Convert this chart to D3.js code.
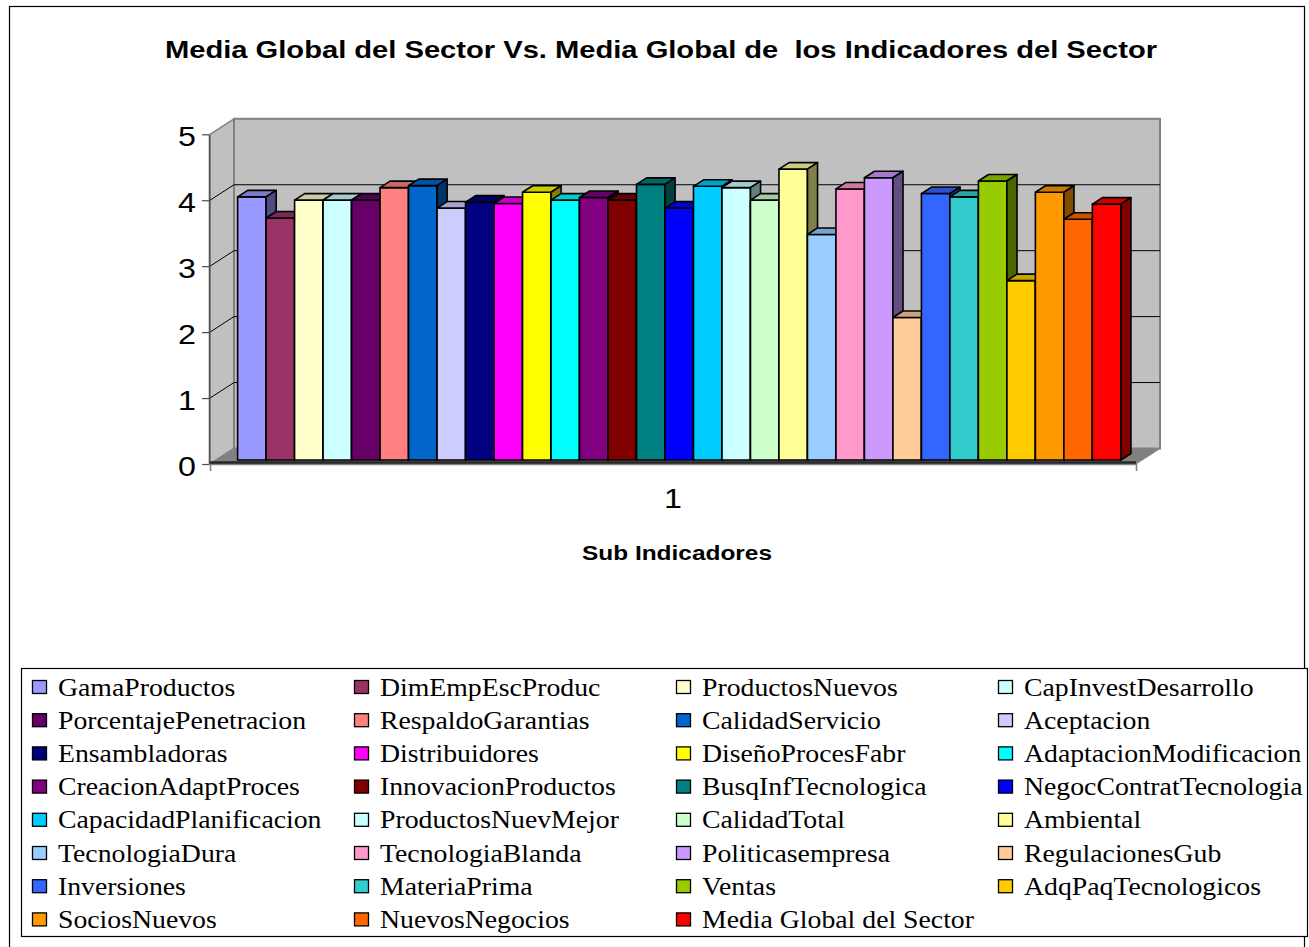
<!DOCTYPE html>
<html>
<head>
<meta charset="utf-8">
<script src="https://cdn.jsdelivr.net/npm/d3@7"></script>
<style>
  html, body { margin: 0; padding: 0; background: #fff; }
  svg { display: block; }
</style>
</head>
<body>
<script>
// ---- Data -------------------------------------------------------------
const categories = ["1"];

const seriesNames = [
  "GamaProductos", "DimEmpEscProduc", "ProductosNuevos", "CapInvestDesarrollo",
  "PorcentajePenetracion", "RespaldoGarantias", "CalidadServicio", "Aceptacion",
  "Ensambladoras", "Distribuidores", "DiseñoProcesFabr", "AdaptacionModificacion",
  "CreacionAdaptProces", "InnovacionProductos", "BusqInfTecnologica", "NegocContratTecnologia",
  "CapacidadPlanificacion", "ProductosNuevMejor", "CalidadTotal", "Ambiental",
  "TecnologiaDura", "TecnologiaBlanda", "Politicasempresa", "RegulacionesGub",
  "Inversiones", "MateriaPrima", "Ventas", "AdqPaqTecnologicos",
  "SociosNuevos", "NuevosNegocios", "Media Global del Sector"
];

const seriesValues = [
  3.99, 3.67, 3.94, 3.94,
  3.94, 4.13, 4.16, 3.82,
  3.91, 3.89, 4.06, 3.94,
  3.98, 3.94, 4.18, 3.82,
  4.15, 4.13, 3.94, 4.41,
  3.42, 4.11, 4.28, 2.16,
  4.04, 3.99, 4.23, 2.72,
  4.06, 3.65, 3.88
];

const seriesColors = [
  "#9999FF", "#993366", "#FFFFCC", "#CCFFFF",
  "#660066", "#FF8080", "#0066CC", "#CCCCFF",
  "#000080", "#FF00FF", "#FFFF00", "#00FFFF",
  "#800080", "#800000", "#008080", "#0000FF",
  "#00CCFF", "#CCFFFF", "#CCFFCC", "#FFFF99",
  "#99CCFF", "#FF99CC", "#CC99FF", "#FFCC99",
  "#3366FF", "#33CCCC", "#99CC00", "#FFCC00",
  "#FF9900", "#FF6600", "#FF0000"
];

const yTicks = [0, 1, 2, 3, 4, 5];

const titleText = "Media Global del Sector Vs. Media Global de  los Indicadores del Sector";
const xTitleText = "Sub Indicadores";

// ---- Layout -----------------------------------------------------------
const W = 1309, H = 947;
const SX = 1.15;                 // horizontal text stretch
const X0 = 210, X1 = 1136;       // front plane of the plot
const YBASE = 464, YTOP = 134.3;
const DX = 24, DY = -15.5;       // depth offset from front plane to back wall
const F0 = 0.26, F1 = 0.68;      // bar depth position (fractions of depth)

const svg = d3.select("body").append("svg")
  .attr("width", W).attr("height", H);

// chart area border
svg.append("rect")
  .attr("x", 9.5).attr("y", 6.5)
  .attr("width", 1295).attr("height", 960)
  .attr("fill", "#fff").attr("stroke", "#000").attr("stroke-width", 1.2);

const y = d3.scaleLinear().domain([0, 5]).range([YBASE, YTOP]);
const xCat = d3.scaleBand().domain(categories).range([X0, X1]);
const xSer = d3.scaleBand().domain(seriesNames)
  .range([0, xCat.bandwidth()]).paddingInner(0).paddingOuter(0.75);

const poly = pts => pts.map(p => p.join(",")).join(" ");

// ---- Walls and floor --------------------------------------------------
const walls = svg.append("g");
walls.append("polygon")
  .attr("points", poly([[X0, y(0)], [X0, y(5)], [X0 + DX, y(5) + DY], [X0 + DX, y(0) + DY]]))
  .attr("fill", "#C0C0C0").attr("stroke", "#808080").attr("stroke-width", 1.5);
walls.append("rect")
  .attr("x", X0 + DX).attr("y", y(5) + DY)
  .attr("width", X1 - X0).attr("height", y(0) - y(5))
  .attr("fill", "#C0C0C0").attr("stroke", "#808080").attr("stroke-width", 2);

// gridlines on back and side walls
const grid = walls.append("g").attr("stroke", "#000").attr("stroke-width", 1);
yTicks.filter(v => v > 0 && v < 5).forEach(v => {
  grid.append("line")
    .attr("x1", X0 + DX).attr("x2", X1 + DX)
    .attr("y1", y(v) + DY).attr("y2", y(v) + DY);
  grid.append("line")
    .attr("x1", X0).attr("x2", X0 + DX)
    .attr("y1", y(v)).attr("y2", y(v) + DY);
});

walls.append("polygon")
  .attr("points", poly([[X0, y(0)], [X1, y(0)], [X1 + DX, y(0) + DY], [X0 + DX, y(0) + DY]]))
  .attr("fill", "#808080").attr("stroke", "#808080").attr("stroke-width", 1);
walls.append("line")
  .attr("x1", X0).attr("x2", X1)
  .attr("y1", y(0) - 1.2).attr("y2", y(0) - 1.2)
  .attr("stroke", "#262626").attr("stroke-width", 3);

// ---- Bars (3D columns, painted left to right) -------------------------
const shade = (c, k) => {
  const r = d3.rgb(c);
  return d3.rgb(r.r * k, r.g * k, r.b * k).formatHex();
};
const bars = svg.append("g")
  .attr("stroke", "#000").attr("stroke-width", 1.6).attr("stroke-linejoin", "round");

const depthW = (F1 - F0) * DX, depthH = (F1 - F0) * DY;
seriesNames.forEach((name, i) => {
  const v = seriesValues[i];
  const xl = xCat("1") + xSer(name) + F0 * DX;
  const xr = xl + xSer.bandwidth();
  const yb = y(0) + F0 * DY;
  const yt = y(v) + F0 * DY;
  const g = bars.append("g");
  g.append("polygon")
    .attr("points", poly([[xl, yb], [xl, yt], [xr, yt], [xr, yb]]))
    .attr("fill", seriesColors[i]);
  g.append("polygon")
    .attr("points", poly([[xl, yt], [xl + depthW, yt + depthH], [xr + depthW, yt + depthH], [xr, yt]]))
    .attr("fill", shade(seriesColors[i], 0.8));
  g.append("polygon")
    .attr("points", poly([[xr, yt], [xr + depthW, yt + depthH], [xr + depthW, yb + depthH], [xr, yb]]))
    .attr("fill", shade(seriesColors[i], 0.5));
});

// ---- Axes -------------------------------------------------------------
const yAxis = svg.append("g")
  .attr("transform", `translate(${X0 - 1},0)`)
  .call(d3.axisLeft(y).tickValues(yTicks).tickFormat(d3.format("d"))
    .tickSizeInner(7).tickSizeOuter(0).tickPadding(6));
yAxis.select(".domain").attr("stroke", "#4d4d4d").attr("stroke-width", 1.5);
yAxis.selectAll(".tick line").attr("stroke", "#4d4d4d").attr("stroke-width", 1.2);
yAxis.selectAll(".tick text")
  .attr("font-family", "Liberation Sans, Arial, sans-serif")
  .attr("font-size", 28).attr("fill", "#000")
  .attr("dy", "0.36em")
  .each(function () {
    const t = d3.select(this);
    const x = +t.attr("x");
    t.attr("x", null)
      .attr("transform", `translate(${x},1) scale(${SX},1)`);
  });

const xAxis = svg.append("g")
  .attr("transform", `translate(0,${YBASE})`)
  .call(d3.axisBottom(xCat).tickSizeInner(0).tickSizeOuter(7).tickPadding(24));
xAxis.select(".domain").attr("stroke", "#808080").attr("stroke-width", 1.5);
xAxis.selectAll(".tick text")
  .attr("font-family", "Liberation Sans, Arial, sans-serif")
  .attr("font-size", 28).attr("fill", "#000")
  .attr("transform", `scale(${SX},1)`)
  .attr("x", 0);

// ---- Titles -----------------------------------------------------------
svg.append("text")
  .attr("x", 661).attr("y", 58)
  .attr("text-anchor", "middle")
  .style("white-space", "pre")
  .attr("font-family", "Liberation Sans, Arial, sans-serif")
  .attr("font-weight", "bold").attr("font-size", 24)
  .attr("textLength", 992).attr("lengthAdjust", "spacingAndGlyphs")
  .text(titleText);

svg.append("text")
  .attr("x", 677).attr("y", 560)
  .attr("text-anchor", "middle")
  .attr("font-family", "Liberation Sans, Arial, sans-serif")
  .attr("font-weight", "bold").attr("font-size", 20)
  .attr("textLength", 190).attr("lengthAdjust", "spacingAndGlyphs")
  .text(xTitleText);

// ---- Legend -----------------------------------------------------------
const legend = svg.append("g");
legend.append("rect")
  .attr("x", 21.5).attr("y", 668.5)
  .attr("width", 1286).attr("height", 268)
  .attr("fill", "#fff").attr("stroke", "#000").attr("stroke-width", 1.2);

const colX = [32, 354, 676, 998];
const rowY0 = 687, rowStep = 33.2;
seriesNames.forEach((name, i) => {
  const c = i % 4, r = Math.floor(i / 4);
  const cx = colX[c], cy = rowY0 + r * rowStep;
  const item = legend.append("g");
  item.append("rect")
    .attr("x", cx + 0.5).attr("y", cy - 6.5)
    .attr("width", 14).attr("height", 13)
    .attr("fill", seriesColors[i]).attr("stroke", "#000").attr("stroke-width", 1.3);
  item.append("text")
    .attr("transform", `translate(${cx + 26},${cy + 8.5}) scale(${SX - 0.04},1)`)
    .attr("font-family", "Liberation Serif, Times New Roman, serif")
    .attr("font-size", 25).attr("fill", "#000")
    .text(name);
});
</script>
</body>
</html>
